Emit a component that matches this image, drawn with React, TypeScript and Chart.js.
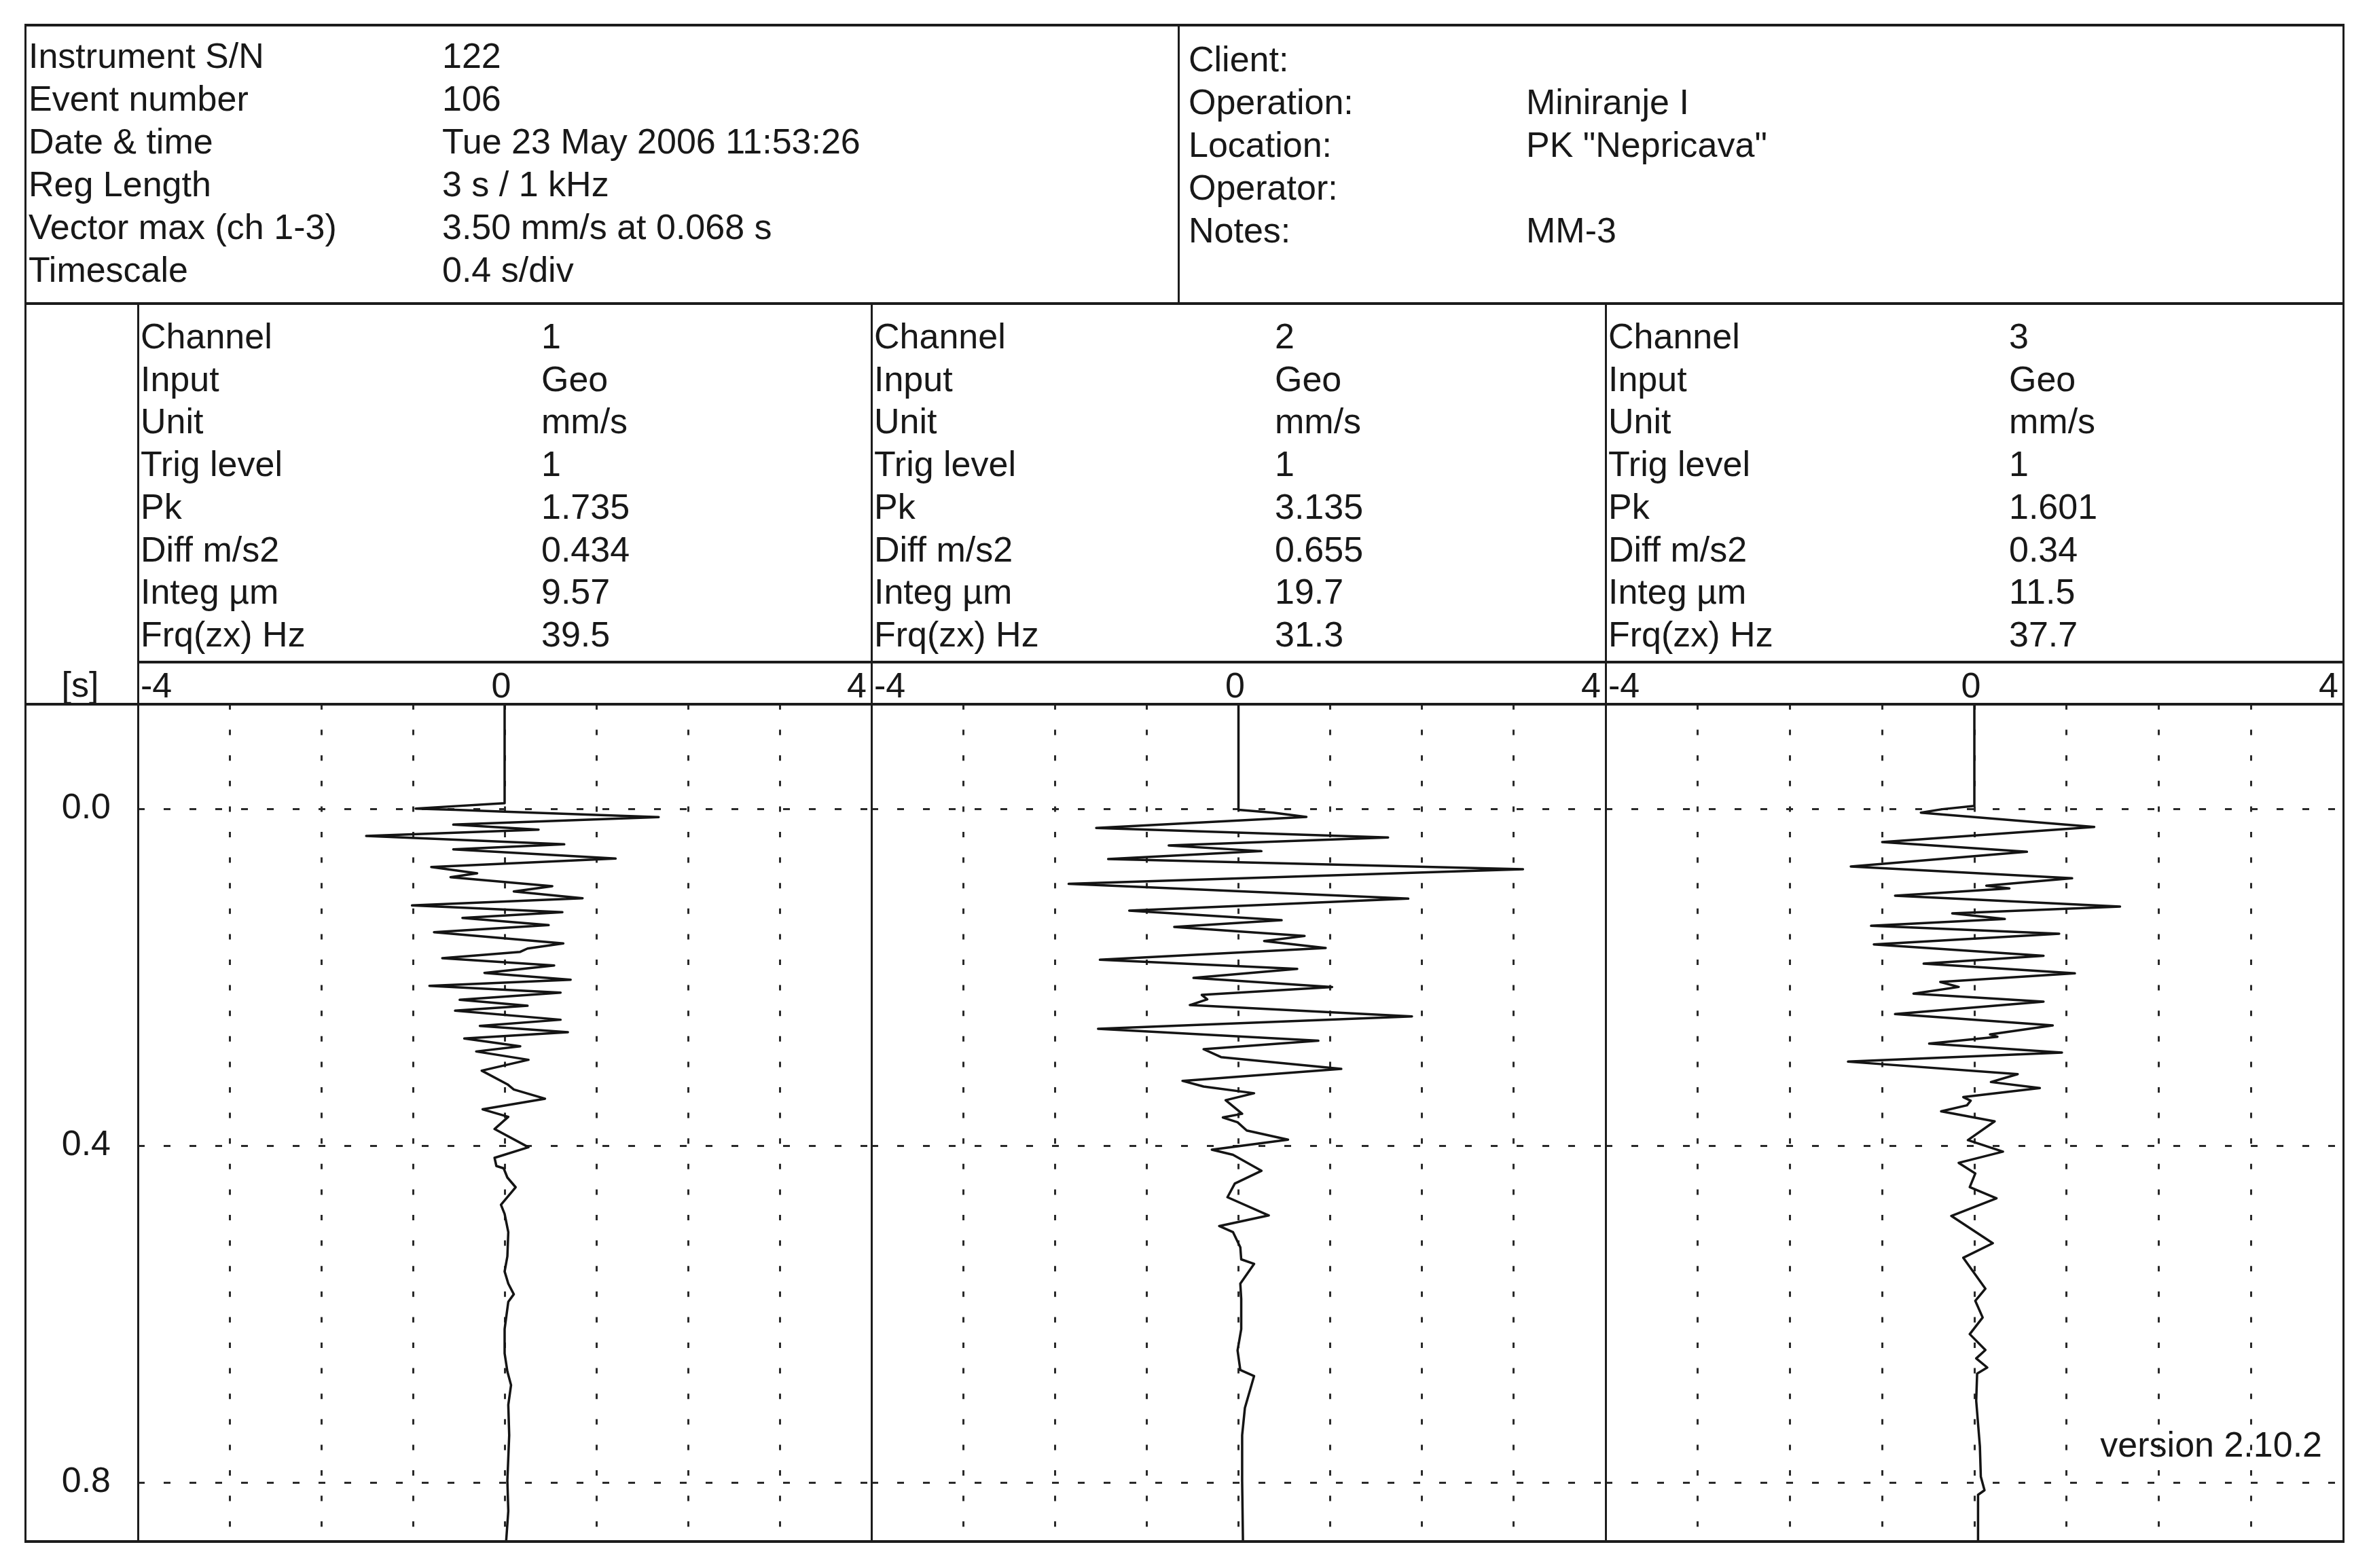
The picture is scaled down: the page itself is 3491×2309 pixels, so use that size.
import React, { useEffect, useRef } from "react";
import { Chart, registerables } from "chart.js";

Chart.register(...registerables);

// ---------------- data ----------------
const HEADER_LEFT_LABELS = ["Instrument S/N", "Event number", "Date & time", "Reg Length", "Vector max (ch 1-3)", "Timescale"];
const HEADER_LEFT_VALUES = ["122", "106", "Tue 23 May 2006 11:53:26", "3 s / 1 kHz", "3.50 mm/s at 0.068 s", "0.4 s/div"];
const HEADER_RIGHT_LABELS = ["Client:", "Operation:", "Location:", "Operator:", "Notes:"];
const HEADER_RIGHT_VALUES = ["", "Miniranje I", "PK \"Nepricava\"", "", "MM-3"];

const CHANNEL_FIELDS = ["Channel", "Input", "Unit", "Trig level", "Pk", "Diff m/s2", "Integ µm", "Frq(zx) Hz"];
const CH1_INFO = ["1", "Geo", "mm/s", "1", "1.735", "0.434", "9.57", "39.5"];
const CH2_INFO = ["2", "Geo", "mm/s", "1", "3.135", "0.655", "19.7", "31.3"];
const CH3_INFO = ["3", "Geo", "mm/s", "1", "1.601", "0.34", "11.5", "37.7"];

const X_TICKS = [-4, -3, -2, -1, 0, 1, 2, 3, 4];
const X_LABELS = [-4, 0, 4];
const Y_TICKS = [0, 0.4, 0.8];
const Y_UNIT = "[s]";
const VERSION_TEXT = "version 2.10.2";

// channel 1 waveform: time [s] and velocity [mm/s]
const CH1_T = [-0.13, -0.0067, -0.0003, 0.0013, 0.0035, 0.0099, 0.0188, 0.0247, 0.0323, 0.0422, 0.0481, 0.0591, 0.0691, 0.0766, 0.0812, 0.0919, 0.0981, 0.1062, 0.1148, 0.1228, 0.1296, 0.1382, 0.1465, 0.1599, 0.1659, 0.1699, 0.1774, 0.186, 0.1949, 0.203, 0.2102, 0.2183, 0.2269, 0.2339, 0.2398, 0.2505, 0.2578, 0.2653, 0.2728, 0.282, 0.2882, 0.2981, 0.311, 0.3272, 0.3334, 0.3443, 0.3569, 0.3658, 0.3803, 0.4019, 0.4145, 0.4242, 0.427, 0.4379, 0.4494, 0.4703, 0.4811, 0.5027, 0.5315, 0.5495, 0.5639, 0.5765, 0.5855, 0.6178, 0.6467, 0.6682, 0.6844, 0.7079, 0.7439, 0.7979, 0.8339, 0.88];
const CH1_V = [0, 0, -0.97, -0.54, 0, 1.68, -0.56, 0.37, -1.51, 0.65, -0.56, 1.21, -0.8, -0.3, -0.59, 0.52, 0.1, 0.85, -1.01, 0.63, -0.46, 0.48, -0.77, 0.64, 0.25, 0.17, -0.68, 0.54, -0.22, 0.72, -0.82, 0.61, -0.49, 0.25, -0.54, 0.61, -0.27, 0.69, -0.44, 0.17, -0.31, 0.26, -0.25, 0.03, 0.1, 0.44, -0.24, 0.04, -0.11, 0.26, -0.11, -0.09, -0.01, 0.03, 0.12, -0.04, 0, 0.04, 0.03, 0, 0.04, 0.1, 0.04, 0, 0, 0.03, 0.07, 0.04, 0.05, 0.03, 0.04, 0.01];

// channel 2 waveform
const CH2_T = [-0.13, 0.0005, 0.0013, 0.0046, 0.0097, 0.0228, 0.0341, 0.0435, 0.0503, 0.0597, 0.0718, 0.0892, 0.1067, 0.121, 0.1323, 0.1403, 0.1511, 0.157, 0.1653, 0.1793, 0.1901, 0.2008, 0.2116, 0.221, 0.2263, 0.2331, 0.2465, 0.2613, 0.2755, 0.2855, 0.2949, 0.3089, 0.3231, 0.3298, 0.3378, 0.3461, 0.3622, 0.3666, 0.3723, 0.3821, 0.3929, 0.4048, 0.4109, 0.4299, 0.4451, 0.4613, 0.4829, 0.4955, 0.5027, 0.5207, 0.5351, 0.5405, 0.5639, 0.5819, 0.6179, 0.6431, 0.6665, 0.6737, 0.7115, 0.7439, 0.7979, 0.88];
const CH2_V = [0, 0, 0, 0.38, 0.74, -1.55, 1.63, -0.76, 0.25, -1.42, 3.1, -1.85, 1.85, -1.19, 0.47, -0.7, 0.72, 0.28, 0.95, -1.51, 0.64, -0.49, 1.02, -0.4, -0.34, -0.53, 1.89, -1.53, 0.87, -0.38, -0.19, 1.12, -0.61, -0.38, 0.17, -0.14, 0.04, -0.17, -0.01, 0.09, 0.54, -0.29, -0.06, 0.25, -0.04, -0.12, 0.33, -0.21, -0.06, 0.02, 0.03, 0.17, 0.02, 0.03, 0.03, -0.01, 0.02, 0.17, 0.07, 0.04, 0.04, 0.05];

// channel 3 waveform
const CH3_T = [-0.13, -0.0035, 0.0005, 0.0046, 0.0215, 0.0395, 0.0511, 0.0685, 0.0825, 0.0914, 0.0946, 0.1032, 0.1161, 0.1242, 0.1309, 0.139, 0.1484, 0.161, 0.1745, 0.1839, 0.1954, 0.2056, 0.2116, 0.2196, 0.229, 0.2438, 0.2573, 0.268, 0.2707, 0.2788, 0.2895, 0.3003, 0.3151, 0.3245, 0.3316, 0.3424, 0.3467, 0.3521, 0.3593, 0.3712, 0.3935, 0.4072, 0.4205, 0.4331, 0.4493, 0.4626, 0.4835, 0.5159, 0.5332, 0.5699, 0.5843, 0.6041, 0.6239, 0.6427, 0.6527, 0.6635, 0.6707, 0.7031, 0.7571, 0.7931, 0.8093, 0.8147, 0.88];
const CH3_V = [0, 0, -0.35, -0.58, 1.3, -1.0, 0.57, -1.34, 1.06, 0.13, 0.38, -0.86, 1.58, -0.24, 0.33, -1.12, 0.92, -1.09, 0.75, -0.55, 1.09, -0.37, -0.17, -0.66, 0.75, -0.86, 0.85, 0.17, 0.25, -0.49, 0.95, -1.37, 0.47, 0.18, 0.71, -0.12, -0.04, -0.08, -0.36, 0.22, -0.07, 0.31, -0.17, 0.01, -0.05, 0.24, -0.25, 0.2, -0.12, 0.12, 0.01, 0.09, -0.05, 0.12, 0.02, 0.14, 0.03, 0.02, 0.06, 0.07, 0.11, 0.04, 0.04];

// ---------------- layout / style ----------------
const PAGE_W = 3491;
const PAGE_H = 2309;
const FONT = '"Liberation Sans", Arial, Helvetica, sans-serif';
const FS = 52;
const INK = "#181818";
const LINE = "#1c1c1c";
const GRID = "#2a2a2a";
const TRACE = "#141414";

const FRAME_L = 37;
const FRAME_T = 37;
const FRAME_R = 3450;
const FRAME_B = 2270;
const HEADER_DIV_X = 1735;
const HEADER_B = 447;
const COL_X = [203, 1283, 2364, 3450];
const AXIS_ROW_T = 975;
const AXIS_ROW_B = 1037;
const T_AT_ZERO_PX = 1191;
const PX_PER_S = 1240;
const T_MIN = (AXIS_ROW_B - T_AT_ZERO_PX) / PX_PER_S;
const T_MAX = (FRAME_B - T_AT_ZERO_PX) / PX_PER_S;
const Y_AXIS_W = COL_X[0] - FRAME_L;
const X_AXIS_H = AXIS_ROW_B - AXIS_ROW_T;

const xLabelPlugin = {
  id: "xLabelPlugin",
  afterDraw(chart: any) {
    const sx = chart.scales.x;
    const ctx = chart.ctx;
    const base = chart.chartArea.top - 10;
    ctx.save();
    ctx.font = `${FS}px ${FONT}`;
    ctx.fillStyle = INK;
    ctx.textBaseline = "alphabetic";
    X_LABELS.forEach((v, i) => {
      const px = sx.getPixelForValue(v);
      const txt = String(v);
      if (i === 0) {
        ctx.textAlign = "left";
        ctx.fillText(txt, px + 4, base);
      } else if (i === X_LABELS.length - 1) {
        ctx.textAlign = "right";
        ctx.fillText(txt, px - 7, base);
      } else {
        ctx.textAlign = "center";
        ctx.fillText(txt, px - 5, base);
      }
    });
    ctx.restore();
  },
};

function Wave(props: { times: number[]; values: number[]; showY: boolean; left: number; width: number }) {
  const { times, values, showY, left, width } = props;
  const ref = useRef<HTMLCanvasElement | null>(null);
  const height = FRAME_B - AXIS_ROW_T;
  useEffect(() => {
    const yW = showY ? Y_AXIS_W : 0;
    const chart = new Chart(ref.current as HTMLCanvasElement, {
      type: "scatter",
      data: {
        datasets: [
          {
            data: times.map((t, i) => ({ x: values[i], y: t })),
            showLine: true,
            borderColor: TRACE,
            borderWidth: 3.5,
            pointRadius: 0,
            pointHoverRadius: 0,
            tension: 0,
            fill: false,
            borderJoinStyle: "round",
          } as any,
        ],
      },
      options: {
        animation: false,
        responsive: false,
        devicePixelRatio: 1,
        events: [],
        layout: { padding: 0 },
        plugins: { legend: { display: false }, tooltip: { enabled: false } },
        scales: {
          x: {
            type: "linear",
            position: "top",
            min: -4,
            max: 4,
            afterBuildTicks: (s: any) => {
              s.ticks = X_TICKS.map((v) => ({ value: v }));
            },
            afterFit: (s: any) => {
              s.height = X_AXIS_H;
              s.paddingLeft = 0;
              s.paddingRight = 0;
              s.paddingTop = 0;
              s.paddingBottom = 0;
            },
            ticks: { display: false },
            grid: {
              drawTicks: false,
              lineWidth: 3,
              color: (c: any) => (c.tick && Math.abs(c.tick.value) === 4 ? "rgba(0,0,0,0)" : GRID),
            },
            border: { display: false, dash: [8, 29.6] },
          },
          y: {
            type: "linear",
            position: "left",
            reverse: true,
            min: T_MIN,
            max: T_MAX,
            afterBuildTicks: (s: any) => {
              s.ticks = Y_TICKS.map((v) => ({ value: v }));
            },
            afterFit: (s: any) => {
              s.width = yW;
              s.paddingLeft = 0;
              s.paddingRight = 0;
              s.paddingTop = 0;
              s.paddingBottom = 0;
            },
            ticks: {
              display: showY,
              autoSkip: false,
              font: { family: FONT, size: FS },
              color: INK,
              padding: 40,
              crossAlign: "near",
              callback: (v: any) => Number(v).toFixed(1),
            },
            grid: { drawTicks: false, lineWidth: 3, color: GRID },
            border: { display: false, dash: [10, 28] },
          },
        },
      } as any,
      plugins: [xLabelPlugin],
    });
    return () => chart.destroy();
  }, []);
  return (
    <canvas
      ref={ref}
      width={width}
      height={height}
      style={{ position: "absolute", left, top: AXIS_ROW_T, width, height }}
    />
  );
}

function Txt(props: { x: number; base: number; text: string; align?: "left" | "right" | "center"; w?: number }) {
  const { x, base, text, align = "left", w } = props;
  const style: any = {
    position: "absolute",
    top: base - 44,
    fontFamily: FONT,
    fontSize: FS,
    lineHeight: `${FS}px`,
    color: INK,
    whiteSpace: "pre",
  };
  if (align === "left") style.left = x;
  else if (align === "right") style.right = PAGE_W - x;
  else {
    style.left = x - (w || 200) / 2;
    style.width = w || 200;
    style.textAlign = "center";
  }
  return <div style={style}>{text}</div>;
}

function HLine(props: { x1: number; x2: number; y: number; t?: number }) {
  const t = props.t || 4;
  return (
    <div
      style={{ position: "absolute", left: props.x1 - 1, top: props.y - t / 2, width: props.x2 - props.x1 + 2, height: t, background: LINE }}
    />
  );
}

function VLine(props: { x: number; y1: number; y2: number; t?: number }) {
  const t = props.t || 3;
  return (
    <div
      style={{ position: "absolute", left: props.x - t / 2, top: props.y1 - 2, width: t, height: props.y2 - props.y1 + 4, background: LINE }}
    />
  );
}

export default function App() {
  const headerLeftBase = 100;
  const headerRightBase = 105;
  const headerPitch = 63;
  const chBase = 513;
  const chPitch = 62.7;
  const chInfos = [CH1_INFO, CH2_INFO, CH3_INFO];

  return (
    <div
      style={{
        position: "absolute",
        left: 0,
        top: 0,
        width: PAGE_W,
        height: PAGE_H,
        background: "#ffffff",
        overflow: "hidden",
      }}
    >
      {/* waveform charts */}
      <Wave times={CH1_T} values={CH1_V} showY={true} left={FRAME_L} width={COL_X[1] - FRAME_L} />
      <Wave times={CH2_T} values={CH2_V} showY={false} left={COL_X[1]} width={COL_X[2] - COL_X[1]} />
      <Wave times={CH3_T} values={CH3_V} showY={false} left={COL_X[2]} width={COL_X[3] - COL_X[2]} />

      {/* header text */}
      {HEADER_LEFT_LABELS.map((s, i) => (
        <Txt key={"hl" + i} x={42} base={headerLeftBase + i * headerPitch} text={s} />
      ))}
      {HEADER_LEFT_VALUES.map((s, i) => (
        <Txt key={"hv" + i} x={651} base={headerLeftBase + i * headerPitch} text={s} />
      ))}
      {HEADER_RIGHT_LABELS.map((s, i) => (
        <Txt key={"rl" + i} x={1750} base={headerRightBase + i * headerPitch} text={s} />
      ))}
      {HEADER_RIGHT_VALUES.map((s, i) => (
        <Txt key={"rv" + i} x={2247} base={headerRightBase + i * headerPitch} text={s} />
      ))}

      {/* channel tables */}
      {chInfos.map((info, c) => (
        <React.Fragment key={"ch" + c}>
          {CHANNEL_FIELDS.map((f, i) => (
            <Txt key={"f" + i} x={COL_X[c] + 4} base={Math.round(chBase + i * chPitch)} text={f} />
          ))}
          {info.map((v, i) => (
            <Txt key={"v" + i} x={COL_X[c] + 594} base={Math.round(chBase + i * chPitch)} text={v} />
          ))}
        </React.Fragment>
      ))}

      <Txt x={118} base={1026} text={Y_UNIT} align="center" w={120} />
      <Txt x={3419} base={2145} text={VERSION_TEXT} align="right" />

      {/* frame lines */}
      <HLine x1={FRAME_L} x2={FRAME_R} y={FRAME_T} />
      <HLine x1={FRAME_L} x2={FRAME_R} y={HEADER_B} />
      <HLine x1={COL_X[0]} x2={FRAME_R} y={AXIS_ROW_T} />
      <HLine x1={FRAME_L} x2={FRAME_R} y={AXIS_ROW_B} />
      <HLine x1={FRAME_L} x2={FRAME_R} y={FRAME_B} />
      <VLine x={FRAME_L} y1={FRAME_T} y2={FRAME_B} />
      <VLine x={FRAME_R} y1={FRAME_T} y2={FRAME_B} />
      <VLine x={HEADER_DIV_X} y1={FRAME_T} y2={HEADER_B} />
      <VLine x={COL_X[0]} y1={HEADER_B} y2={FRAME_B} />
      <VLine x={COL_X[1]} y1={HEADER_B} y2={FRAME_B} />
      <VLine x={COL_X[2]} y1={HEADER_B} y2={FRAME_B} />
    </div>
  );
}
